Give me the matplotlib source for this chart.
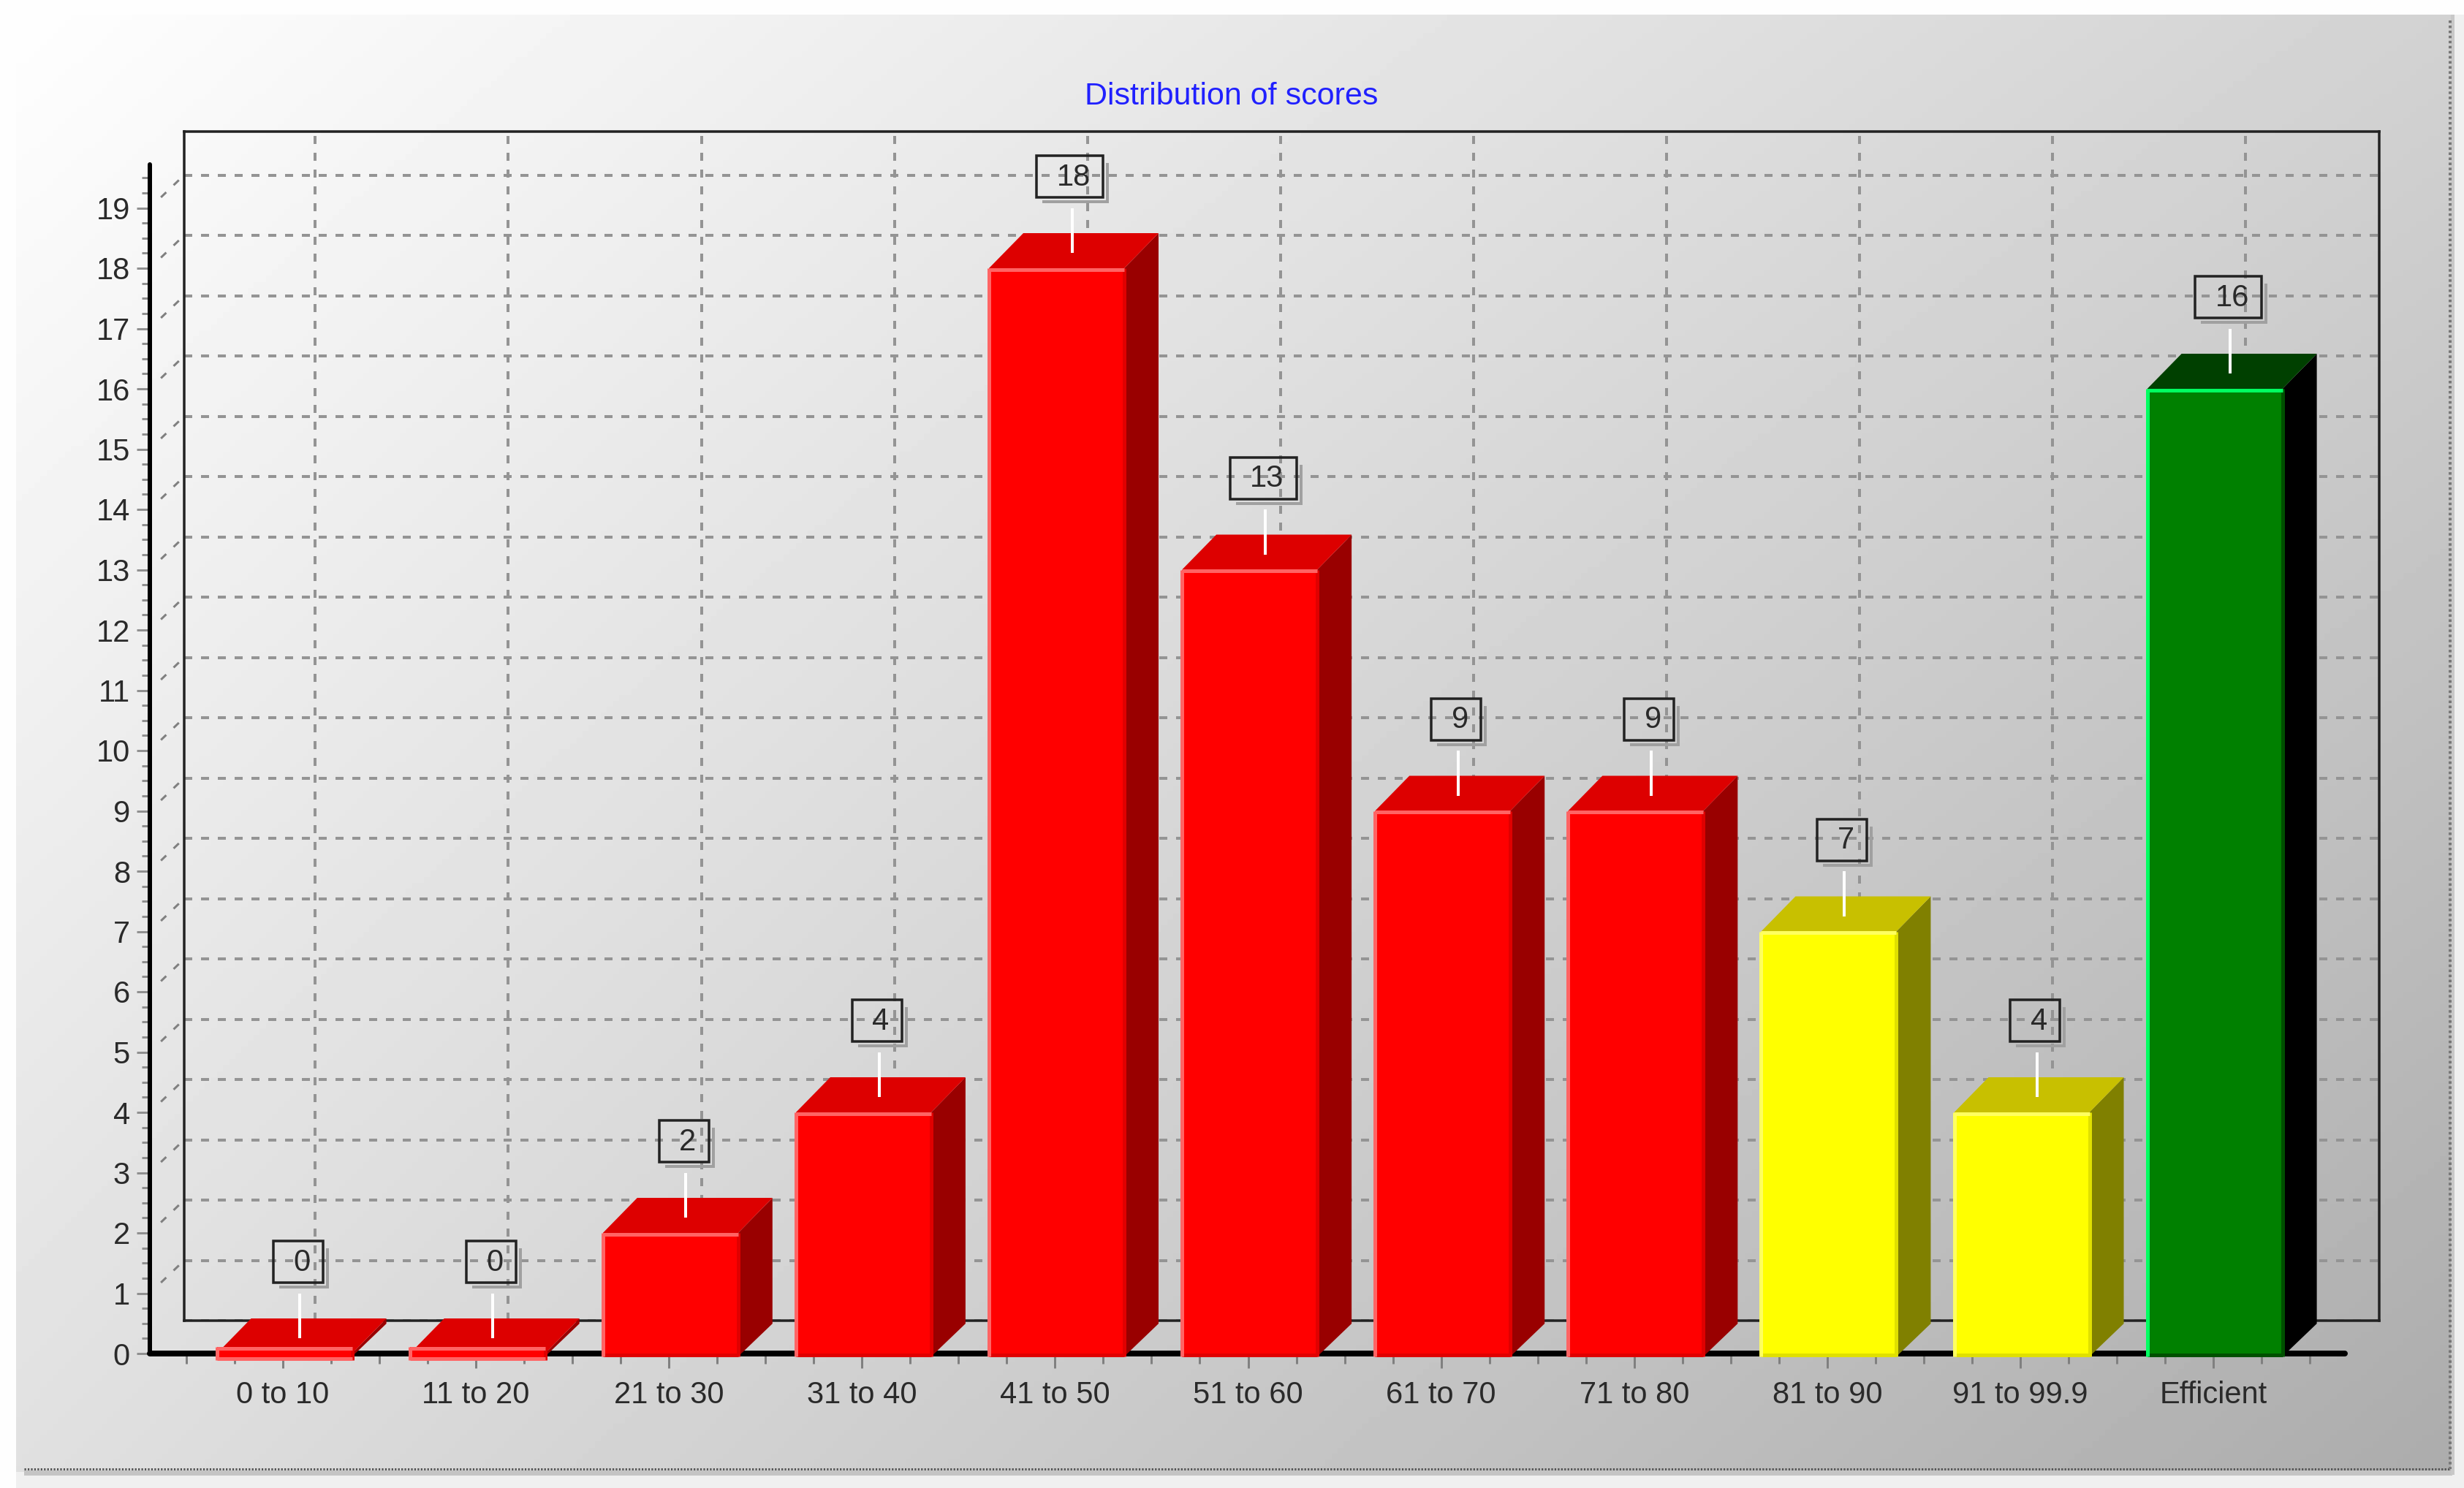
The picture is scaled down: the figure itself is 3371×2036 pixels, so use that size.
import numpy as np
import matplotlib
matplotlib.use('Agg')
import matplotlib.pyplot as plt
from matplotlib.patches import Rectangle
from matplotlib.ticker import AutoMinorLocator

plt.rcParams['font.family'] = ['Liberation Sans', 'DejaVu Sans']
plt.rcParams['lines.scale_dashes'] = False

categories = ['0 to 10', '11 to 20', '21 to 30', '31 to 40', '41 to 50', '51 to 60',
              '61 to 70', '71 to 80', '81 to 90', '91 to 99.9', 'Efficient']
counts = [0, 0, 2, 4, 18, 13, 9, 9, 7, 4, 16]

front_colors = ['#ff0000'] * 8 + ['#ffff00'] * 2 + ['#008000']
side_colors = ['#990000'] * 8 + ['#808000'] * 2 + ['#000000']
top_colors = ['#dd0000'] * 8 + ['#c8c000'] * 2 + ['#004000']
light_colors = ['#ff6464'] * 8 + ['#ffff60'] * 2 + ['#00ff60']
dark_colors = ['#e00000'] * 8 + ['#e0e000'] * 2 + ['#005000']

W, H = 3371, 2036
px = 0.72  # one pixel in points at dpi 100

fig = plt.figure(figsize=(W / 100, H / 100), dpi=100, facecolor='#fefefe')

# background panel
bg = fig.add_axes([0, 0, 1, 1], zorder=0)
gx, gy = np.meshgrid(np.linspace(0, 1, 400), np.linspace(0, 1, 240))
shade = 254 - 44 * gx - 30 * gy - 8 * gx * gy
bg.imshow(shade, cmap='gray', vmin=0, vmax=255, extent=[22, 3355, 2014, 20], aspect='auto')
bg.set_xlim(0, W)
bg.set_ylim(H, 0)
bg.axis('off')
bg.add_patch(Rectangle((3355, 20), W - 3355, H - 20, fc='#f0f0f0', ec='none'))
bg.add_patch(Rectangle((22, 2014), W - 22, H - 2014, fc='#f0f0f0', ec='none'))
bg.add_patch(Rectangle((33, 2012), 3322, 7, fc='#c4c4c4', ec='none'))
bg.add_patch(Rectangle((3353, 20), 5, 1998, fc='#c8c8c8', ec='none'))
bg.plot([33, 3352], [2010, 2010], color='#555555', lw=3 * px, ls=(0, (1.6, 1.6)))
bg.plot([3352, 3352], [28, 2010], color='#777777', lw=4 * px, ls=(0, (2.5, 2.5)))

# plot area, y=0 at pixel 1852, one unit 82.5 px, one category 264.1 px
left, right, bottom, top = 205, 3208, 1852, 225
depth_px_x, depth_px_y = 47, 45
xlim = ((left - 387) / 264.1, (right - 387) / 264.1)
ylim = (0, (bottom - top) / 82.5)
depth_x = depth_px_x / 264.1
depth_y = depth_px_y / 82.5

# back wall is the same axes moved by the depth
wall = fig.add_axes([(left + depth_px_x) / W, (H - bottom + depth_px_y) / H,
                     (right - left) / W, (bottom - top) / H], zorder=1)
wall.patch.set_visible(False)
wall.set_xlim(xlim)
wall.set_ylim(ylim)
wall.set_xticks(np.arange(len(categories)) - 0.01)
wall.set_yticks(range(20))
wall.tick_params(length=0, labelleft=False, labelbottom=False)
wall.grid(True, color='#949494', lw=4 * px, ls=(0, (11 * px, 12 * px)))
wall.set_axisbelow(True)
for s in wall.spines.values():
    s.set_color('#222222')
    s.set_linewidth(3.5 * px)

ax = fig.add_axes([left / W, (H - bottom) / H, (right - left) / W, (bottom - top) / H], zorder=2)
ax.patch.set_visible(False)
ax.set_xlim(xlim)
ax.set_ylim(ylim)
ax.spines['top'].set_visible(False)
ax.spines['right'].set_visible(False)
ax.spines['left'].set_linewidth(6 * px)
ax.spines['bottom'].set_linewidth(8 * px)
ax.spines['left'].set_capstyle('round')
ax.spines['bottom'].set_capstyle('round')
ax.set_xticks(range(len(categories)))
ax.set_xticklabels(categories)
ax.set_yticks(range(20))
ax.xaxis.set_minor_locator(AutoMinorLocator(4))
ax.yaxis.set_minor_locator(AutoMinorLocator(4))
ax.tick_params(axis='x', which='major', length=20 * px, width=3 * px, color='#808080',
               labelsize=30, labelcolor='#2a2a2a', pad=17 * px)
ax.tick_params(axis='x', which='minor', length=14 * px, width=3 * px, color='#808080')
ax.tick_params(axis='y', which='major', length=18 * px, width=3 * px, color='#909090',
               labelsize=30, labelcolor='#2a2a2a', pad=9 * px)
ax.tick_params(axis='y', which='minor', length=11 * px, width=3 * px, color='#909090')

# slanted dashes joining the axis to the wall
for v in range(1, 20):
    ax.plot([xlim[0], xlim[0] + depth_x], [v, v + depth_y], color='#808080', lw=3 * px,
            ls=(-21 * px, (10 * px, 14 * px, 10 * px, 40 * px)), clip_on=False, zorder=1.5)

# bars
bar_w = 185 / 264.1
edge = 3 / 82.5  # hides the wall grid along the back edge of the top face
for i, v in enumerate(counts):
    c = i + 0.008
    x0, x1 = c - bar_w / 2, c + bar_w / 2
    lo = -0.05 if v > 0 else -0.11
    hi = v if v > 0 else 0.11
    ax.fill([x1, x1 + depth_x, x1 + depth_x, x1], [-0.05, -0.05 + depth_y, v + depth_y + edge, v],
            color=side_colors[i], lw=0, clip_on=False, zorder=3)
    ax.fill([x0, x0 + depth_x, x1 + depth_x, x1],
            [v, v + depth_y + edge, v + depth_y + edge, v],
            color=top_colors[i], lw=0, clip_on=False, zorder=3)
    ax.bar(c, hi - lo, bottom=lo, width=bar_w, color=front_colors[i], lw=0, clip_on=False, zorder=4)
    # bevel on the front face
    ax.plot([x1, x1], [lo, hi], color=dark_colors[i], lw=5 * px, clip_on=False, zorder=5,
            solid_capstyle='butt')
    ax.plot([x0, x1], [lo + 0.03, lo + 0.03], color=dark_colors[i] if v > 0 else light_colors[i],
            lw=5 * px, clip_on=False, zorder=5, solid_capstyle='butt')
    ax.plot([x0, x0], [lo, hi], color=light_colors[i], lw=5 * px, clip_on=False, zorder=5,
            solid_capstyle='butt')
    ax.plot([x0, x1], [hi - 0.02, hi - 0.02], color=light_colors[i], lw=5 * px, clip_on=False,
            zorder=5, solid_capstyle='butt')

    # value label: leader, shadow, box, text
    box_w = (91 if v >= 10 else 68) / 264.1
    box_h = 57 / 82.5
    bx = c + 0.07 - box_w / 2
    by = v + 1.17
    ax.plot([c + 0.08, c + 0.08], [v + 0.25, v + 1.0], color='#ffffff', lw=4 * px,
            clip_on=False, zorder=6, solid_capstyle='butt')
    sx = 6 / 264.1
    ax.plot([bx + 10 / 264.1, bx + box_w + sx, bx + box_w + sx],
            [by - 6 / 82.5, by - 6 / 82.5, by + box_h - 12 / 82.5],
            color='#a0a0a0', lw=4 * px, clip_on=False, zorder=6, solid_joinstyle='miter')
    ax.add_patch(Rectangle((bx, by), box_w, box_h, fc='none', ec='#222222', lw=3.5 * px,
                           clip_on=False, zorder=7))
    ax.text(bx + box_w / 2 + 5 / 264.1, by + box_h / 2 - 0.01, str(v), ha='center', va='center',
            fontsize=30, color='#2a2a2a', clip_on=False, zorder=8)

fig.text(1685 / W, 1 - 132 / H, 'Distribution of scores', ha='center', va='center',
         fontsize=31, color='#2020ff')

fig.savefig('out.png', dpi=100, facecolor=fig.get_facecolor())
